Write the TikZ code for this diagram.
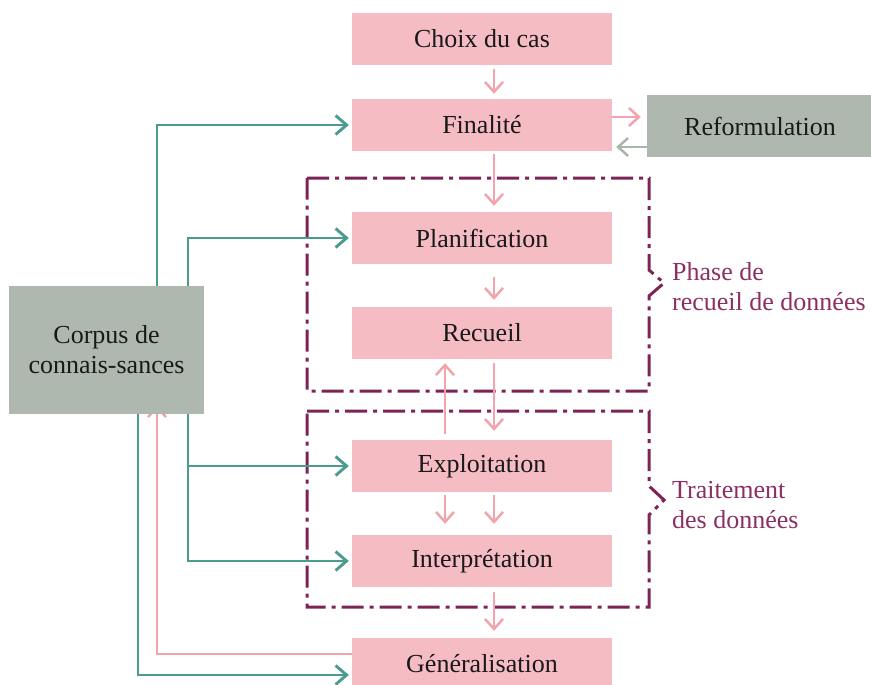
\documentclass[tikz,border=0pt]{standalone}
\usepackage{fontspec}
\setmainfont{Liberation Serif}
\usetikzlibrary{arrows.meta,backgrounds}
\definecolor{boxpink}{HTML}{F6BCC3}
\definecolor{boxgray}{HTML}{AEB8AE}
\definecolor{tealline}{HTML}{4A9C8C}
\definecolor{pinkline}{HTML}{F2A3AD}
\definecolor{grayline}{HTML}{A7B7AB}
\definecolor{phaseline}{HTML}{7D2457}
\definecolor{phasetext}{HTML}{8C3063}
\begin{document}
\begin{tikzpicture}[x=1pt,y=-1pt,
  txt/.style={font=\fontsize{26}{30}\selectfont, text=black!90},
  stepbox/.style={txt, fill=boxpink, minimum width=260pt, minimum height=52pt, inner sep=0pt},
  graybox/.style={txt, fill=boxgray, inner sep=0pt, align=center},
  pinkarrow/.style={draw=pinkline, line width=2.5pt, -{Straight Barb[length=10pt,width=18pt,line width=2.5pt]}},
  grayarrow/.style={draw=grayline, line width=2.5pt, -{Straight Barb[length=10pt,width=18pt,line width=2.5pt]}},
  tealarrow/.style={draw=tealline, line width=2.9pt, -{Straight Barb[length=11pt,width=19pt,line width=2.9pt]}},
  phasebox/.style={draw=phaseline, line width=3pt, dash pattern=on 22pt off 6pt on 4pt off 6pt},
  phaselabel/.style={txt, text=phasetext, anchor=west, align=left, inner sep=0pt}
]
\useasboundingbox (0,0) rectangle (871,685);

% process steps
\node[stepbox] (choix)   at (482,39)  {Choix du cas};
\node[stepbox] (final)   at (482,125) {Finalité};
\node[stepbox] (plan)    at (482,238) {Planification};
\node[stepbox] (recueil) at (482,333) {Recueil};
\node[stepbox] (exploit) at (482,466) {Exploitation};
\node[stepbox] (interp)  at (482,561) {Interprétation};
\node[stepbox] (general) at (482,664) {Généralisation};

% side boxes
\node[graybox, minimum width=226pt, minimum height=62pt] (reform) at (760,126) {Reformulation};
\node[graybox, minimum width=195pt, minimum height=128pt] (corpus) at (106.5,350) {Corpus de\\connais-sances};

% phase labels
\node[phaselabel] (phaselbl) at (672,287) {Phase de\\recueil de données};
\node[phaselabel] (traitlbl) at (672,505) {Traitement\\des données};

% columns used by the connectors
\coordinate (colA) at (494,0);
\coordinate (colB) at (445,0);
\coordinate (tA) at (157,0);
\coordinate (tB) at (188,0);
\coordinate (tC) at (138,0);
\coordinate (fr1) at ([yshift=8pt]final.east);
\coordinate (fr2) at ([yshift=-21pt]reform.west);
\coordinate (gen1) at ([yshift=10pt]general.west);
\coordinate (gen2) at ([yshift=-11pt]general.west);

\begin{scope}[on background layer]
  % dash-dotted phase frames with a notch pointing at their label
  \draw[phasebox] (307,178) -- (649,178) -- (649,270) -- (664,283) -- (649,296)
    -- (649,391) -- (307,391) -- cycle;
  \draw[phasebox] (307,411) -- (649,411) -- (649,486) -- (664,500) -- (649,515)
    -- (649,607) -- (307,607) -- cycle;

  % main flow
  \draw[pinkarrow, shorten <=4pt, shorten >=5pt] (choix.south -| colA) -- (final.north -| colA);
  \draw[pinkarrow, shorten <=3pt, shorten >=6pt] (final.south -| colA) -- (plan.north -| colA);
  \draw[pinkarrow, shorten <=13pt, shorten >=7pt] (plan.south -| colA) -- (recueil.north -| colA);
  \draw[pinkarrow, shorten <=4pt, shorten >=9pt] (recueil.south -| colA) -- (exploit.north -| colA);
  \draw[pinkarrow, shorten <=6pt, shorten >=4pt] (exploit.north -| colB) -- (recueil.south -| colB);
  \draw[pinkarrow, shorten <=3pt, shorten >=11pt] (exploit.south -| colA) -- (interp.north -| colA);
  \draw[pinkarrow, shorten <=3pt, shorten >=11pt] (exploit.south -| colB) -- (interp.north -| colB);
  \draw[pinkarrow, shorten <=5pt, shorten >=7pt] (interp.south -| colA) -- (general.north -| colA);

  % reformulation loop
  \draw[pinkarrow, shorten >=6pt] (fr1) -- (fr1 -| reform.west);
  \draw[grayarrow, shorten >=4pt] (fr2) -- (fr2 -| final.east);

  % knowledge corpus links
  \draw[tealarrow, shorten >=3pt] (corpus.north -| tA) |- (final.west);
  \draw[tealarrow, shorten >=3pt] (corpus.north -| tB) |- (plan.west);
  \draw[tealarrow, shorten >=3pt] (corpus.south -| tB) |- (exploit.west);
  \draw[tealarrow, shorten >=3pt] (corpus.south -| tB) |- (interp.west);
  \draw[tealarrow, shorten >=3pt] (corpus.south -| tC) |- (gen2);
  \draw[pinkarrow, shorten >=-9pt] (gen1) -| (corpus.south -| tA);
\end{scope}
\end{tikzpicture}
\end{document}
